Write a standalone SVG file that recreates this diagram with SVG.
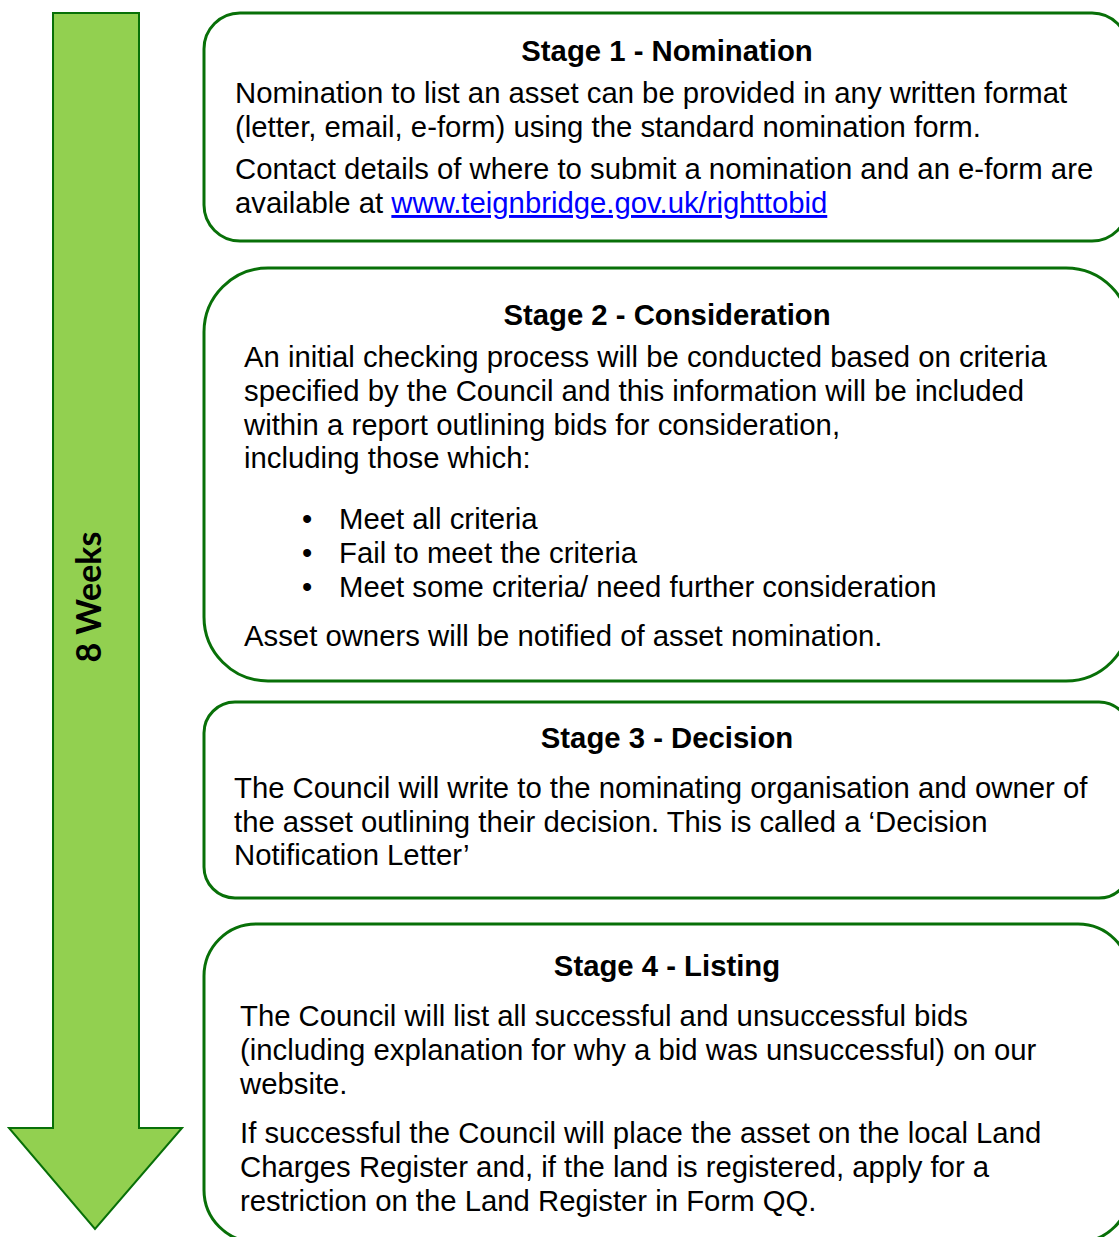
<svg xmlns="http://www.w3.org/2000/svg" width="1119" height="1237" viewBox="0 0 1119 1237">
<style>
.box{fill:#ffffff;stroke:#087008;stroke-width:3}
.arrow{fill:#92D050;stroke:#087008;stroke-width:2}
.t{font-family:"Liberation Sans",Arial,sans-serif;font-size:29.3px;fill:#000000}
.h{font-family:"Liberation Sans",Arial,sans-serif;font-size:29.3px;font-weight:bold;fill:#000000;text-anchor:middle}
.lnk{fill:#0000FF;text-decoration:underline}
.w{font-family:Lato,"Open Sans",sans-serif;font-size:34px;font-weight:bold;fill:#000000;text-anchor:middle}
</style>
<rect width="1119" height="1237" fill="#ffffff"/>
<g id="arrow">
<path class="arrow" d="M53,13 H139 V1128 H182 L95,1229 L9,1128 H53 Z"/>
<text class="w" transform="translate(101,597) rotate(-90)">8 Weeks</text>
</g>
<g id="stage1">
<rect class="box" x="204" y="13" width="924" height="228" rx="36" ry="36"/>
<text class="h" x="667" y="61">Stage 1 - Nomination</text>
<text class="t" x="235" y="103">Nomination to list an asset can be provided in any written format</text>
<text class="t" x="235" y="137">(letter, email, e-form) using the standard nomination form.</text>
<text class="t" x="235" y="179">Contact details of where to submit a nomination and an e-form are</text>
<text class="t" x="235" y="213">available at <tspan class="lnk">www.teignbridge.gov.uk/righttobid</tspan></text>
</g>
<g id="stage2">
<rect class="box" x="204" y="268" width="926" height="413" rx="64" ry="64"/>
<text class="h" x="667" y="325">Stage 2 - Consideration</text>
<text class="t" x="244" y="367">An initial checking process will be conducted based on criteria</text>
<text class="t" x="244" y="401">specified by the Council and this information will be included</text>
<text class="t" x="244" y="435">within a report outlining bids for consideration,</text>
<text class="t" x="244" y="468">including those which:</text>
<text class="t" x="302" y="529">•</text>
<text class="t" x="339" y="529">Meet all criteria</text>
<text class="t" x="302" y="563">•</text>
<text class="t" x="339" y="563">Fail to meet the criteria</text>
<text class="t" x="302" y="597">•</text>
<text class="t" x="339" y="597">Meet some criteria/ need further consideration</text>
<text class="t" x="244" y="646">Asset owners will be notified of asset nomination.</text>
</g>
<g id="stage3">
<rect class="box" x="204" y="702" width="926" height="196" rx="31" ry="31"/>
<text class="h" x="667" y="748">Stage 3 - Decision</text>
<text class="t" x="234" y="798">The Council will write to the nominating organisation and owner of</text>
<text class="t" x="234" y="832">the asset outlining their decision. This is called a ‘Decision</text>
<text class="t" x="234" y="865">Notification Letter’</text>
</g>
<g id="stage4">
<rect class="box" x="204" y="924" width="926" height="318" rx="52" ry="52"/>
<text class="h" x="667" y="976">Stage 4 - Listing</text>
<text class="t" x="240" y="1026">The Council will list all successful and unsuccessful bids</text>
<text class="t" x="240" y="1060">(including explanation for why a bid was unsuccessful) on our</text>
<text class="t" x="240" y="1094">website.</text>
<text class="t" x="240" y="1143">If successful the Council will place the asset on the local Land</text>
<text class="t" x="240" y="1177">Charges Register and, if the land is registered, apply for a</text>
<text class="t" x="240" y="1211">restriction on the Land Register in Form QQ.</text>
</g>
<g id="connectors"></g>
</svg>
